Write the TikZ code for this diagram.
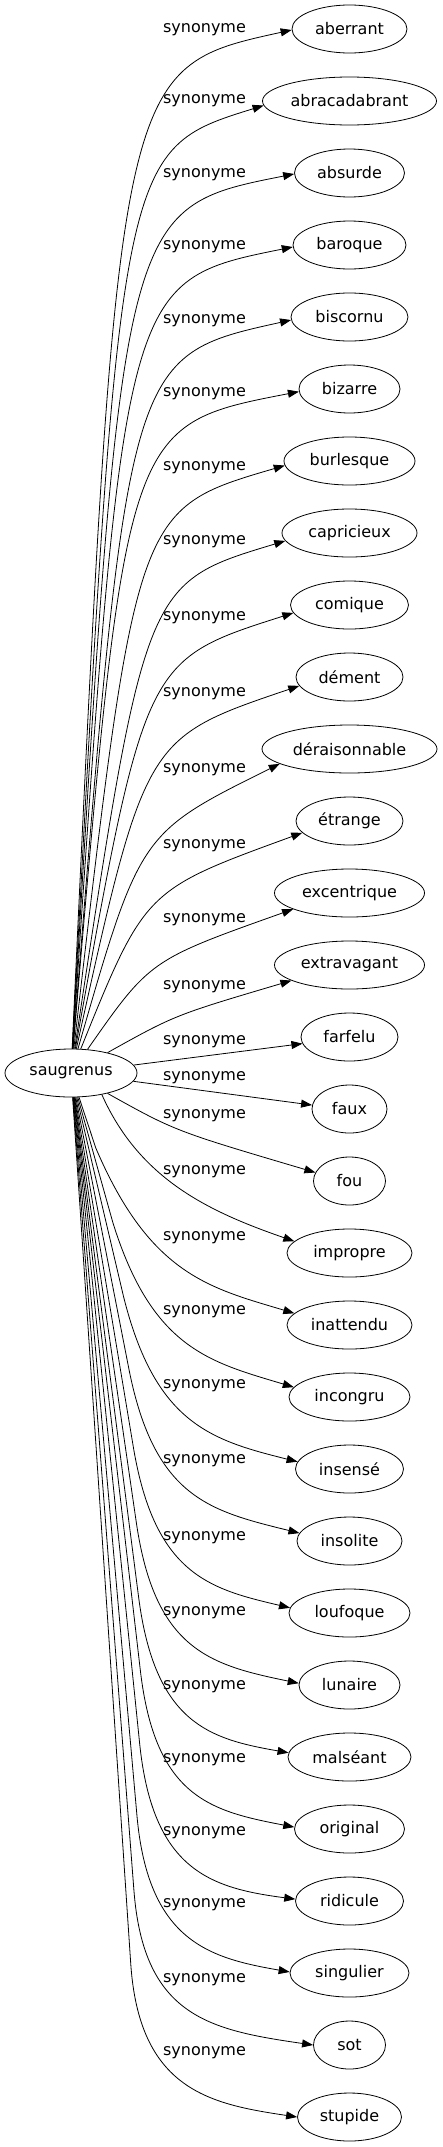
\documentclass[tikz,border=0pt]{standalone}
\usepackage{fontspec}
\setmainfont{DejaVu Sans}
\usetikzlibrary{arrows.meta,shapes.geometric}

\begin{document}
\begin{tikzpicture}[x=1pt,y=-1pt,
      word/.style={draw,ellipse,inner sep=0pt,minimum height=48pt,font=\fontsize{16}{19}\selectfont},
      rel/.style={inner sep=0pt,font=\fontsize{16}{19}\selectfont},
      >={Triangle[length=11pt,width=8pt]},
      line width=0.8pt
]
\useasboundingbox (0,0) rectangle (442,2147);
% source word
\node[word,minimum width=132pt] (saugrenus) at (71,1073) {saugrenus};
% synonyms
\node[word,minimum width=115pt] (aberrant) at (349.5,29) {aberrant};
\node[word,minimum width=174pt] (abracadabrant) at (349.5,101) {abracadabrant};
\node[word,minimum width=110pt] (absurde) at (349.5,173) {absurde};
\node[word,minimum width=113pt] (baroque) at (349.5,245) {baroque};
\node[word,minimum width=117pt] (biscornu) at (349.5,317) {biscornu};
\node[word,minimum width=101pt] (bizarre) at (349.5,389) {bizarre};
\node[word,minimum width=131pt] (burlesque) at (349.5,461) {burlesque};
\node[word,minimum width=135pt] (capricieux) at (349.5,533) {capricieux};
\node[word,minimum width=118pt] (comique) at (349.5,605) {comique};
\node[word,minimum width=107pt] (dement) at (349.5,677) {dément};
\node[word,minimum width=175pt] (deraisonnable) at (349.5,749) {déraisonnable};
\node[word,minimum width=107pt] (etrange) at (349.5,821) {étrange};
\node[word,minimum width=150pt] (excentrique) at (349.5,893) {excentrique};
\node[word,minimum width=150pt] (extravagant) at (349.5,965) {extravagant};
\node[word,minimum width=97pt] (farfelu) at (349.5,1037) {farfelu};
\node[word,minimum width=75pt] (faux) at (349.5,1109) {faux};
\node[word,minimum width=72pt] (fou) at (349.5,1181) {fou};
\node[word,minimum width=125pt] (impropre) at (349.5,1253) {impropre};
\node[word,minimum width=125pt] (inattendu) at (349.5,1325) {inattendu};
\node[word,minimum width=121pt] (incongru) at (349.5,1397) {incongru};
\node[word,minimum width=108pt] (insense) at (349.5,1469) {insensé};
\node[word,minimum width=105pt] (insolite) at (349.5,1541) {insolite};
\node[word,minimum width=121pt] (loufoque) at (349.5,1613) {loufoque};
\node[word,minimum width=101pt] (lunaire) at (349.5,1685) {lunaire};
\node[word,minimum width=123pt] (malseant) at (349.5,1757) {malséant};
\node[word,minimum width=110pt] (original) at (349.5,1829) {original};
\node[word,minimum width=108pt] (ridicule) at (349.5,1901) {ridicule};
\node[word,minimum width=119pt] (singulier) at (349.5,1973) {singulier};
\node[word,minimum width=72pt] (sot) at (349.5,2045) {sot};
\node[word,minimum width=104pt] (stupide) at (349.5,2117) {stupide};
% edge labels
\node[rel] (syn-aberrant) at (204.5,30) {synonyme};
\node[rel] (syn-abracadabrant) at (204.5,101) {synonyme};
\node[rel] (syn-absurde) at (204.5,175) {synonyme};
\node[rel] (syn-baroque) at (204.5,247) {synonyme};
\node[rel] (syn-biscornu) at (204.5,321) {synonyme};
\node[rel] (syn-bizarre) at (204.5,394) {synonyme};
\node[rel] (syn-burlesque) at (204.5,468) {synonyme};
\node[rel] (syn-capricieux) at (204.5,542) {synonyme};
\node[rel] (syn-comique) at (204.5,618) {synonyme};
\node[rel] (syn-dement) at (204.5,694) {synonyme};
\node[rel] (syn-deraisonnable) at (204.5,770) {synonyme};
\node[rel] (syn-etrange) at (204.5,846) {synonyme};
\node[rel] (syn-excentrique) at (204.5,920) {synonyme};
\node[rel] (syn-extravagant) at (204.5,987) {synonyme};
\node[rel] (syn-farfelu) at (204.5,1042) {synonyme};
\node[rel] (syn-faux) at (204.5,1078) {synonyme};
\node[rel] (syn-fou) at (204.5,1116) {synonyme};
\node[rel] (syn-impropre) at (204.5,1172) {synonyme};
\node[rel] (syn-inattendu) at (204.5,1238) {synonyme};
\node[rel] (syn-incongru) at (204.5,1312) {synonyme};
\node[rel] (syn-insense) at (204.5,1386) {synonyme};
\node[rel] (syn-insolite) at (204.5,1461) {synonyme};
\node[rel] (syn-loufoque) at (204.5,1538) {synonyme};
\node[rel] (syn-lunaire) at (204.5,1613) {synonyme};
\node[rel] (syn-malseant) at (204.5,1687) {synonyme};
\node[rel] (syn-original) at (204.5,1760) {synonyme};
\node[rel] (syn-ridicule) at (204.5,1833) {synonyme};
\node[rel] (syn-singulier) at (204.5,1905) {synonyme};
\node[rel] (syn-sot) at (204.5,1980) {synonyme};
\node[rel] (syn-stupide) at (204.5,2053) {synonyme};
% edges, upper half
\draw[->] (saugrenus) .. controls (118,68) .. (aberrant.181);
\draw[->] (saugrenus) .. controls (120,150) .. (abracadabrant.183);
\draw[->] (saugrenus) .. controls (122,208) .. (absurde.181);
\draw[->] (saugrenus) .. controls (124,281) .. (baroque.182);
\draw[->] (saugrenus) .. controls (128,356) .. (biscornu.183);
\draw[->] (saugrenus) .. controls (126,425) .. (bizarre.183);
\draw[->] (saugrenus) .. controls (136,509) .. (burlesque.184);
\draw[->] (saugrenus) .. controls (145,583) .. (capricieux.187);
\draw[->] (saugrenus) .. controls (145,660) .. (comique.188);
\draw[->] (saugrenus) .. controls (145,738) .. (dement.190);
\draw[->] (saugrenus) .. controls (140,833) .. (deraisonnable.192);
\draw[->] (saugrenus) .. controls (145,890) .. (etrange.194);
\draw[->] (saugrenus) .. controls (150,960) .. (excentrique.196);
\draw[->] (saugrenus) .. controls (175,1015) .. (extravagant.195);
\draw[->] (saugrenus) -- (farfelu.188);
\draw[->] (saugrenus) -- (faux.174);
\draw[->] (saugrenus) .. controls (175,1131) .. (fou.166);
% edges, lower half
\draw[->] (saugrenus.-35) .. controls (140,1180) and (210,1212) .. (impropre.168);
\draw[->] (saugrenus) -- (95.8,1148) .. controls (150,1275) and (210,1288) .. (inattendu.168);
\draw[->] (saugrenus) -- (112.7,1222) .. controls (152,1349) and (210,1362) .. (incongru.170);
\draw[->] (saugrenus) -- (123.4,1296) .. controls (155,1423) and (210,1440) .. (insense.172);
\draw[->] (saugrenus) -- (129.3,1371) .. controls (155,1498) and (210,1511) .. (insolite.171);
\draw[->] (saugrenus) -- (133.5,1448) .. controls (155,1575) and (210,1589) .. (loufoque.175);
\draw[->] (saugrenus) -- (136.4,1523) .. controls (155,1650) and (210,1665) .. (lunaire.178);
\draw[->] (saugrenus) -- (138.6,1597) .. controls (155,1724) and (210,1739) .. (malseant.176);
\draw[->] (saugrenus) -- (140.3,1670) .. controls (155,1797) and (210,1811) .. (original.178);
\draw[->] (saugrenus) -- (139.6,1743) .. controls (152.5,1870) and (210,1888) .. (ridicule.178);
\draw[->] (saugrenus) -- (136.9,1815) .. controls (148,1942) and (210,1958) .. (singulier.179);
\draw[->] (saugrenus) -- (133.9,1890) .. controls (143.5,2017) and (210,2030) .. (sot.180);
\draw[->] (saugrenus) -- (130.7,1963) .. controls (139,2090) and (210,2104) .. (stupide.180);
\end{tikzpicture}
\end{document}
